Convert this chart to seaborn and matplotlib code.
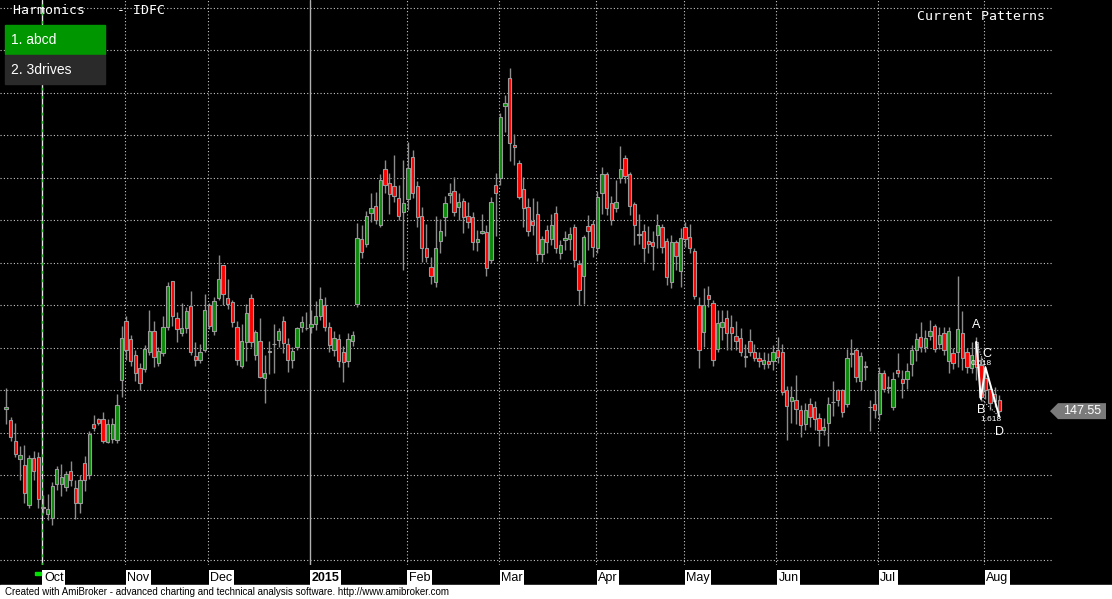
import matplotlib
matplotlib.use("Agg")
import matplotlib.pyplot as plt
from matplotlib.patches import Rectangle, Polygon
import numpy as np
import pandas as pd
import seaborn as sns

# daily OHLC of IDFC (late Sep 2014 -> early Aug 2015)
opens = [147.8, 146.5, 144.0, 141.95, 141.2, 136.5, 142.0, 142.2, 136.2, 135.45,
         134.97, 138.95, 139.0, 138.6, 140.5, 138.5, 136.7, 141.5, 140.0, 146.0,
         146.6, 146.6, 143.9, 144.3, 144.1, 151.2, 158.2, 156.0, 154.2, 152.6,
         152.5, 154.5, 157.0, 153.2, 154.4, 157.4, 162.9, 158.5, 156.7, 157.3,
         159.9, 154.0, 153.6, 154.8, 160.0, 157.0, 160.9, 164.7, 160.9, 160.4,
         157.4, 152.9, 155.7, 160.9, 154.1, 155.8, 151.4, 154.5, 155.4, 155.9,
         158.1, 155.5, 153.6, 155.1, 157.4, 157.3, 157.5, 157.8, 158.7, 160.0,
         157.5, 154.8, 156.0, 154.5, 153.4, 155.8, 160.2, 167.8, 167.2, 170.9,
         171.7, 169.5, 176.0, 174.4, 174.0, 172.6, 171.0, 172.5, 177.4, 174.0,
         170.5, 166.7, 164.5, 162.7, 167.6, 170.4, 173.0, 173.4, 171.6, 172.3,
         170.5, 170.4, 167.4, 168.5, 168.6, 165.3, 174.2, 175.0, 183.4, 186.7,
         178.9, 176.8, 173.7, 171.6, 169.9, 170.8, 166.0, 168.9, 167.8, 170.9,
         166.1, 167.7, 167.8, 169.2, 164.9, 163.4, 169.3, 169.6, 166.8, 173.2,
         175.5, 172.0, 171.4, 175.0, 177.3, 175.5, 171.9, 168.3, 168.7, 167.6,
         167.4, 168.3, 169.2, 167.6, 162.7, 167.4, 164.0, 169.2, 168.0, 166.4,
         160.0, 156.9, 161.2, 160.3, 154.9, 157.4, 158.5, 157.4, 156.4, 156.1,
         153.9, 155.8, 154.5, 153.8, 153.1, 153.5, 153.5, 154.8, 154.5, 150.0,
         148.7, 148.9, 147.7, 146.0, 148.4, 148.0, 146.7, 145.3, 146.1, 148.6,
         150.0, 150.0, 148.4, 154.3, 154.7, 151.1, 152.9, 148.0, 148.4, 147.2,
         152.0, 150.3, 148.0, 152.4, 151.3, 151.3, 153.1, 154.8, 156.3, 155.1,
         156.4, 157.6, 155.5, 156.8, 153.5, 154.4, 154.5, 156.8, 154.5, 152.6,
         155.7, 153.0, 151.5, 150.2, 149.6, 148.9]
highs = [150.3, 146.9, 146.2, 143.4, 143.6, 142.4, 142.9, 142.8, 137.7, 137.8,
         139.2, 141.1, 141.3, 140.5, 141.7, 139.4, 140.0, 142.3, 145.2, 147.1,
         146.8, 147.4, 146.6, 146.8, 149.6, 157.6, 158.7, 156.5, 154.7, 153.2,
         155.3, 159.5, 158.2, 155.1, 158.7, 162.7, 162.9, 159.2, 160.3, 159.8,
         161.7, 155.7, 155.5, 161.3, 160.3, 161.0, 165.9, 164.7, 163.1, 160.6,
         158.1, 157.8, 160.2, 161.3, 157.1, 158.5, 154.2, 155.8, 157.8, 157.3,
         158.7, 156.1, 155.1, 157.5, 158.7, 159.2, 159.4, 160.5, 162.2, 161.0,
         158.0, 157.0, 156.6, 155.2, 156.8, 157.0, 169.7, 169.5, 171.1, 173.2,
         173.3, 175.4, 177.1, 175.6, 177.7, 174.2, 177.1, 179.2, 178.3, 174.6,
         171.6, 169.6, 165.7, 170.5, 170.2, 172.9, 174.4, 175.1, 173.2, 172.6,
         172.2, 171.0, 168.9, 170.8, 169.4, 172.8, 175.6, 182.6, 184.7, 187.9,
         180.2, 177.1, 175.1, 172.6, 172.6, 172.3, 168.1, 169.4, 170.8, 171.7,
         167.7, 168.8, 169.2, 169.6, 165.3, 168.3, 170.6, 170.0, 173.4, 176.3,
         175.7, 172.9, 174.7, 178.7, 177.7, 175.7, 172.2, 170.7, 169.6, 169.3,
         168.7, 170.7, 169.6, 167.9, 168.3, 167.7, 169.1, 169.8, 169.6, 166.7,
         161.0, 162.0, 162.3, 160.6, 159.5, 159.4, 159.5, 158.9, 158.1, 157.3,
         155.4, 157.2, 155.5, 154.5, 154.5, 154.4, 155.3, 156.3, 155.5, 150.5,
         150.5, 151.8, 148.3, 148.5, 149.1, 148.7, 147.3, 146.7, 149.2, 151.1,
         150.2, 150.2, 154.9, 156.0, 155.0, 154.5, 153.4, 148.9, 150.0, 152.8,
         152.4, 151.7, 152.2, 154.4, 152.4, 153.2, 155.3, 156.7, 158.0, 157.1,
         158.3, 157.8, 157.5, 157.4, 157.5, 155.0, 163.4, 159.3, 155.0, 155.7,
         156.3, 153.9, 152.5, 150.6, 150.4, 149.4]
lows = [146.0, 144.0, 142.2, 139.4, 136.7, 136.1, 139.4, 136.1, 135.6, 134.7,
        134.2, 138.3, 137.6, 138.1, 138.7, 134.9, 135.6, 138.1, 139.6, 145.2,
        145.9, 143.8, 143.8, 143.8, 143.8, 149.2, 153.6, 152.9, 151.1, 150.0,
        152.1, 154.2, 152.8, 152.9, 154.0, 157.1, 157.6, 155.7, 156.4, 156.8,
        154.2, 152.9, 153.2, 154.5, 157.2, 156.5, 160.6, 160.0, 159.6, 157.5,
        153.0, 152.6, 153.4, 155.1, 153.6, 151.4, 148.5, 151.9, 152.0, 155.1,
        154.4, 152.1, 152.6, 154.8, 156.9, 157.1, 156.8, 157.1, 158.3, 157.0,
        154.5, 154.0, 152.8, 151.0, 152.8, 155.2, 159.8, 165.6, 166.9, 169.8,
        169.6, 169.2, 173.2, 170.8, 172.2, 170.0, 164.2, 171.2, 172.6, 169.2,
        165.1, 165.1, 162.5, 162.2, 166.2, 168.2, 172.0, 170.5, 170.0, 168.5,
        169.1, 166.5, 166.4, 168.4, 163.4, 165.0, 168.1, 174.2, 180.4, 177.0,
        176.5, 172.5, 169.2, 168.1, 168.3, 165.2, 165.1, 166.1, 167.1, 166.1,
        165.5, 166.5, 166.5, 164.5, 160.0, 160.2, 166.5, 165.7, 166.1, 170.7,
        170.6, 169.4, 171.0, 174.4, 174.4, 170.6, 167.1, 167.2, 165.1, 166.1,
        164.1, 166.7, 166.2, 162.4, 162.0, 164.2, 162.1, 166.9, 166.1, 160.8,
        152.6, 155.1, 159.8, 152.9, 154.5, 155.9, 154.7, 154.7, 154.8, 154.0,
        152.8, 154.0, 153.4, 152.8, 152.5, 152.6, 152.4, 153.2, 149.4, 144.1,
        146.1, 146.0, 144.5, 145.3, 145.7, 145.3, 143.4, 144.7, 143.4, 147.0,
        148.1, 146.9, 148.0, 152.8, 151.0, 150.0, 151.2, 145.2, 146.7, 146.5,
        149.8, 149.7, 147.7, 151.6, 149.1, 150.2, 151.7, 153.4, 154.5, 154.5,
        155.9, 154.5, 154.9, 154.2, 152.0, 152.5, 152.7, 152.4, 152.0, 152.0,
        151.2, 148.8, 149.0, 147.7, 148.0, 147.3]
closes = [148.0, 144.5, 142.5, 142.35, 137.9, 142.0, 140.5, 137.2, 136.2, 136.0,
          138.8, 140.7, 139.8, 140.1, 139.5, 136.7, 139.5, 139.5, 144.9, 145.6,
          146.2, 144.0, 146.0, 146.0, 148.3, 156.2, 154.8, 153.4, 152.0, 150.9,
          154.9, 157.0, 153.9, 154.6, 157.4, 162.3, 158.7, 157.2, 157.3, 159.3,
          154.5, 153.6, 154.5, 159.4, 157.6, 160.5, 163.1, 161.3, 160.2, 158.0,
          153.6, 155.8, 159.1, 155.7, 156.9, 151.6, 152.0, 154.5, 155.4, 157.0,
          155.6, 153.6, 154.6, 157.3, 158.0, 157.3, 157.8, 158.7, 160.8, 157.5,
          155.3, 156.2, 153.5, 153.3, 156.0, 156.5, 167.9, 166.3, 170.5, 171.4,
          170.0, 174.7, 174.2, 173.1, 172.9, 170.5, 172.0, 176.2, 173.2, 170.4,
          166.7, 165.7, 163.4, 166.8, 168.7, 172.0, 173.2, 171.0, 172.1, 170.4,
          169.8, 167.5, 167.8, 168.8, 164.4, 172.1, 173.2, 182.1, 183.8, 179.1,
          178.6, 172.8, 171.4, 168.7, 169.4, 166.0, 167.8, 167.5, 169.5, 166.7,
          167.1, 167.9, 168.4, 165.3, 161.8, 168.0, 168.7, 166.9, 172.7, 175.4,
          171.4, 170.0, 172.2, 176.0, 175.2, 171.7, 169.4, 168.4, 166.8, 167.2,
          167.0, 169.4, 166.9, 163.3, 167.4, 165.8, 167.9, 167.8, 166.8, 161.1,
          154.7, 160.0, 160.7, 153.6, 157.9, 158.0, 156.7, 156.8, 155.8, 154.5,
          153.9, 154.5, 153.8, 153.5, 153.6, 153.1, 154.5, 153.9, 149.8, 148.2,
          149.2, 147.8, 145.9, 147.7, 146.9, 146.6, 145.3, 145.7, 148.4, 148.6,
          148.9, 147.5, 153.8, 154.3, 151.6, 154.0, 152.7, 148.0, 147.7, 152.0,
          150.2, 150.3, 151.3, 152.0, 150.9, 152.3, 154.8, 156.0, 155.1, 156.1,
          157.0, 154.9, 156.5, 154.8, 157.0, 153.2, 157.2, 153.8, 152.7, 154.2,
          152.8, 149.2, 150.0, 148.5, 148.7, 147.55]

# first bar of each month and its label
month_start = [8, 26, 44, 66, 87, 107, 128, 147, 167, 189, 212]
month_labels = ["Oct", "Nov", "Dec", "2015", "Feb", "Mar", "Apr", "May", "Jun", "Jul", "Aug"]

# abcd harmonic pattern found at the end of the series
pattern_names = ["A", "B", "C", "D"]
pattern_bar = [210, 211, 212, 215]
pattern_price = [155.7, 149.0, 152.7, 146.9]
pattern_ratios = ["0.618", "1.618"]

df = pd.DataFrame({"open": opens, "high": highs, "low": lows, "close": closes})
df["bar"] = np.arange(len(df))
last_close = closes[-1]

sns.set_theme(style="dark")
plt.rcParams["font.family"] = ["Liberation Sans", "DejaVu Sans"]

W, H = 1112, 599
fig = plt.figure(figsize=(W / 100, H / 100), dpi=100, facecolor="black")
ax = fig.add_axes([0, 34 / H, 1052 / W, 565 / H])
ax.set_facecolor("black")
ax.set_xlim(-1.3, 226.4)
ax.set_ylim(129.45, 195.92)
for s in ax.spines.values():
    s.set_visible(False)
ax.set_xticks([])
ax.set_yticks([])
ax.grid(False)

# dotted price grid
for lvl in np.arange(130, 196, 5):
    ax.axhline(lvl, color="#c8c8c8", lw=0.8, ls=(0, (1, 2)), zorder=1)

# month separators
for b, lab in zip(month_start, month_labels):
    xl = b - 0.25
    if lab == "Oct":
        # selected-bar marker line
        ax.axvline(xl, color="#e8e8e8", lw=1, zorder=1)
        ax.axvline(xl, color="#40c040", lw=1, ls=(0, (2, 4)), zorder=1)
    elif lab == "2015":
        ax.axvline(xl, color="#b0b0b0", lw=1, zorder=1)
    else:
        ax.axvline(xl, color="#c8c8c8", lw=0.8, ls=(0, (1, 2)), zorder=1)
    ax.text(xl + 0.45, -0.023, lab, transform=ax.get_xaxis_transform(),
            ha="left", va="center", fontsize=9, color="black",
            fontweight="bold" if lab == "2015" else "normal",
            bbox=dict(boxstyle="square,pad=0.12", fc="white", ec="none"),
            clip_on=False)

# little green marker on the time axis
fig.patches.append(Rectangle((35 / W, (H - 575) / H), 6 / W, 3 / H,
                             transform=fig.transFigure, color="#00e000"))

# candles
up = df["close"] >= df["open"]
body_low = df[["open", "close"]].min(axis=1)
body_h = (df["close"] - df["open"]).abs().clip(lower=0.08)
ax.vlines(df["bar"], df["low"], df["high"], color="#8c8c8c", lw=1, zorder=2)
ax.bar(df["bar"], body_h, bottom=body_low, width=0.72,
       color=np.where(up, "#0a8c0a", "#ff0000"), edgecolor="#9a9a9a",
       linewidth=0.8, zorder=3)

# abcd pattern lines
pat = pd.DataFrame({"bar": pattern_bar, "price": pattern_price})
sns.lineplot(data=pat, x="bar", y="price", ax=ax, color="white", lw=1.4,
             sort=False, zorder=5)
ax.plot([pattern_bar[0], pattern_bar[2]], [pattern_price[0], pattern_price[2]],
        color="white", lw=0.7, ls=":", zorder=5)
ax.plot([pattern_bar[1], pattern_bar[3]], [pattern_price[1], pattern_price[3]],
        color="white", lw=0.7, ls=":", zorder=5)
name_offset = {"A": (0, 2.0), "B": (0, -1.3), "C": (0.3, 1.6), "D": (0, -1.8)}
for n, b, p in zip(pattern_names, pattern_bar, pattern_price):
    dx, dy = name_offset[n]
    ax.text(b + dx, p + dy, n, color="white", fontsize=9, ha="center",
            va="center", zorder=6)
ax.text(pattern_bar[1] + 0.1, 153.2, pattern_ratios[0], color="white",
        fontsize=6, ha="center", va="center", zorder=6)
ax.text(pattern_bar[2] + 1.2, 146.6, pattern_ratios[1], color="white",
        fontsize=6, ha="center", va="center", zorder=6)

# last price tag on the right
yp = ax.transData.transform((0, last_close))[1] / H
tag = Polygon([[1050 / W, yp], [1058 / W, yp + 8 / H], [1106 / W, yp + 8 / H],
               [1106 / W, yp - 8 / H], [1058 / W, yp - 8 / H]],
              closed=True, transform=fig.transFigure, fc="#7a7a7a", ec="none")
fig.patches.append(tag)
fig.text(1082 / W, yp, f"{last_close:.2f}", color="white", fontsize=9,
         ha="center", va="center")

# titles
fig.text(13 / W, 1 - 11 / H, "Harmonics    - IDFC", color="white",
         fontsize=9.5, family="DejaVu Sans Mono", va="center")
fig.text(1045 / W, 1 - 16 / H, "Current Patterns", color="white",
         fontsize=9.5, family="DejaVu Sans Mono", va="center", ha="right")

# pattern list boxes
fig.patches.append(Rectangle((5 / W, 1 - 54 / H), 100 / W, 29 / H,
                             transform=fig.transFigure, color="#009600"))
fig.patches.append(Rectangle((5 / W, 1 - 84 / H), 100 / W, 29 / H,
                             transform=fig.transFigure, color="#2a2a2a"))
fig.text(11 / W, 1 - 40 / H, "1. abcd", color="white", fontsize=10, va="center")
fig.text(11 / W, 1 - 70 / H, "2. 3drives", color="white", fontsize=10, va="center")

# footer strip
fig.patches.append(Rectangle((0, 0), 1, 14 / H, transform=fig.transFigure,
                             color="white"))
fig.text(5 / W, 7 / H, "Created with AmiBroker - advanced charting and technical "
         "analysis software. http://www.amibroker.com", color="black",
         fontsize=7, va="center")

fig.savefig("out.png", dpi=100, facecolor="black")
